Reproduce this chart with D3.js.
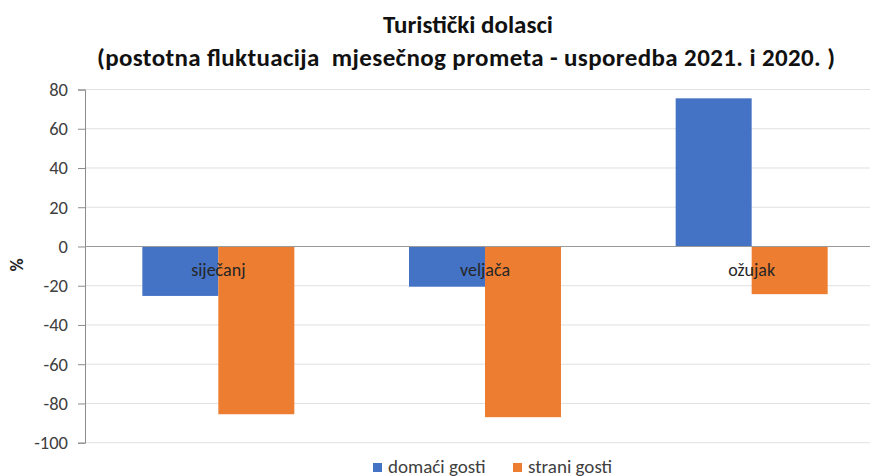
<!DOCTYPE html>
<html><head><meta charset="utf-8">
<script src="https://cdn.jsdelivr.net/npm/d3@7"></script>
<style>
body{margin:0;background:#fff;}
svg text{font-family:Carlito, Calibri, "Liberation Sans Narrow", "Open Sans", sans-serif;}
</style></head><body>
<svg id="c" width="870" height="476"></svg>
<script>
const categories = ["siječanj", "veljača", "ožujak"];
const seriesNames = ["domaći gosti", "strani gosti"];
const domaci = [-25.2, -20.5, 75.5];
const strani = [-85.5, -87.0, -24.3];
const yTicks = [80, 60, 40, 20, 0, -20, -40, -60, -80, -100];
const colors = ["#4472C4", "#ED7D31"];

const svg = d3.select("#c");
const x = d3.scaleBand().domain(categories).range([85, 885]).paddingInner(0.43).paddingOuter(0.215);
const xs = d3.scaleBand().domain(seriesNames).range([0, x.bandwidth()]);
const y = d3.scaleLinear().domain([-100, 80]).range([442.7, 89.5]);

// gridlines
svg.append("g").selectAll("line").data(yTicks.filter(d => d !== 0)).join("line")
  .attr("x1", 85).attr("x2", 885).attr("y1", d => y(d)).attr("y2", d => y(d))
  .attr("stroke", "#e0e0e0").attr("stroke-width", 1);

// y axis
const yAxis = d3.axisLeft(y).tickValues(yTicks).tickSize(7).tickPadding(10).tickFormat(d => String(d));
const ga = svg.append("g").attr("transform", "translate(85,0)").call(yAxis);
ga.select(".domain").attr("stroke", "#8c8c8c");
ga.selectAll(".tick line").attr("stroke", "#8c8c8c");
ga.selectAll(".tick text").attr("fill", "#404040").style("font-size", "18.5px");

// bars
const data = [];
categories.forEach((c, i) => {
  data.push({c, s: seriesNames[0], v: domaci[i], col: colors[0]});
  data.push({c, s: seriesNames[1], v: strani[i], col: colors[1]});
});
svg.append("g").selectAll("rect").data(data).join("rect")
  .attr("x", d => x(d.c) + xs(d.s))
  .attr("width", xs.bandwidth())
  .attr("y", d => Math.min(y(d.v), y(0)))
  .attr("height", d => Math.abs(y(d.v) - y(0)))
  .attr("fill", d => d.col);

// zero line
svg.append("line").attr("x1", 85).attr("x2", 885).attr("y1", y(0)).attr("y2", y(0))
  .attr("stroke", "#9a9a9a").attr("stroke-width", 1.2);

// category labels
svg.append("g").selectAll("text").data(categories).join("text")
  .attr("x", d => x(d) + x.bandwidth() / 2).attr("y", y(0) + 30)
  .attr("text-anchor", "middle").attr("fill", "#262626").style("font-size", "18px")
  .text(d => d);

// y label
svg.append("text").attr("transform", "translate(23,265) rotate(-90)")
  .attr("text-anchor", "middle").style("font-size", "18px").style("font-weight", "bold")
  .attr("fill", "#262626").text("%");

// title
svg.append("text").attr("x", 468).attr("y", 33).attr("text-anchor", "middle")
  .style("font-size", "25px").style("font-weight", "bold").attr("fill", "#111")
  .text("Turistički dolasci");
svg.append("text").attr("x", 466).attr("y", 66).attr("text-anchor", "middle")
  .attr("textLength", 738).attr("lengthAdjust", "spacing")
  .style("white-space", "pre")
  .style("font-size", "25px").style("font-weight", "bold").attr("fill", "#111")
  .text("(postotna fluktuacija  mjesečnog prometa - usporedba 2021. i 2020. )");

// legend
const legX = [373, 513];
const lg = svg.append("g").selectAll("g").data(seriesNames).join("g")
  .attr("transform", (d, i) => `translate(${legX[i]},463)`);
lg.append("rect").attr("width", 9).attr("height", 9).attr("fill", (d, i) => colors[i]);
lg.append("text").attr("x", 15).attr("y", 9.5).style("font-size", "19px").attr("fill", "#404040").text(d => d);
</script>
</body></html>
